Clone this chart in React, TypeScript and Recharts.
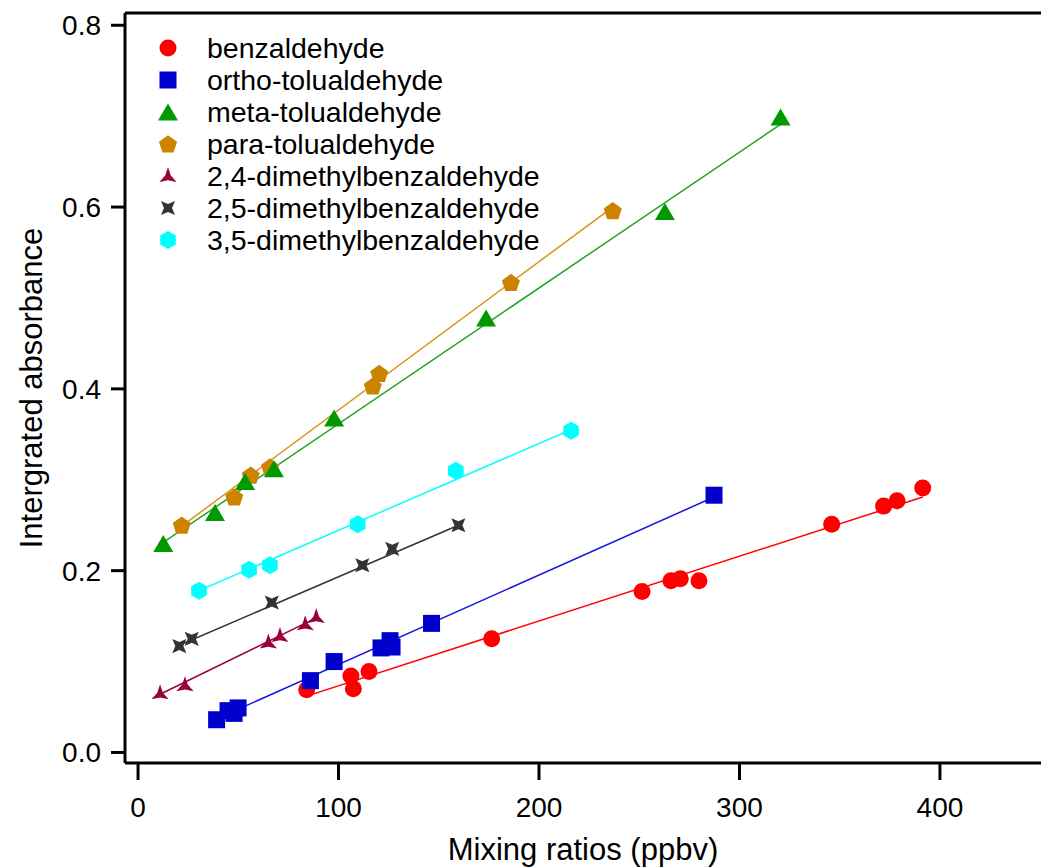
import { ScatterChart, Scatter, XAxis, YAxis, ReferenceLine, Legend, Label } from 'recharts';

// values (x = ppbv, y = integrated absorbance)
const benzX = [84.1, 106.2, 107.4, 115.2, 176.4, 251.4, 265.8, 270.5, 279.8, 346.0, 371.9, 378.6, 391.4];
const benzY = [0.069, 0.084, 0.070, 0.089, 0.125, 0.177, 0.189, 0.191, 0.189, 0.251, 0.271, 0.277, 0.291];
const benzFitX = [84.1, 391.4];
const benzFitY = [0.062, 0.281];

const orthoX = [39.2, 44.9, 47.9, 49.9, 86.0, 97.8, 121.2, 125.7, 126.7, 146.4, 287.3];
const orthoY = [0.036, 0.046, 0.043, 0.049, 0.079, 0.100, 0.115, 0.123, 0.116, 0.142, 0.283];
const orthoFitX = [39.2, 287.3];
const orthoFitY = [0.037, 0.281];

const metaX = [12.6, 38.4, 53.4, 67.8, 97.8, 173.6, 262.8, 320.5];
const metaY = [0.230, 0.264, 0.298, 0.312, 0.368, 0.478, 0.595, 0.699];
const metaFitX = [12.6, 320.5];
const metaFitY = [0.231, 0.691];

const paraX = [21.8, 48.0, 56.2, 65.8, 117.1, 120.3, 186.0, 236.8];
const paraY = [0.250, 0.281, 0.305, 0.314, 0.403, 0.417, 0.517, 0.596];
const paraFitX = [21.8, 236.8];
const paraFitY = [0.249, 0.600];

const dm24X = [11.0, 23.4, 65.0, 70.8, 83.4, 88.9];
const dm24Y = [0.065, 0.074, 0.121, 0.128, 0.141, 0.149];
const dm24FitX = [11.0, 88.9];
const dm24FitY = [0.064, 0.148];

const dm25X = [20.6, 26.8, 66.7, 111.9, 126.8, 159.8];
const dm25Y = [0.117, 0.125, 0.165, 0.206, 0.224, 0.250];
const dm25FitX = [20.6, 159.8];
const dm25FitY = [0.118, 0.250];

const dm35X = [30.4, 55.4, 65.8, 109.6, 158.5, 216.0];
const dm35Y = [0.178, 0.201, 0.206, 0.251, 0.310, 0.354];
const dm35FitX = [30.4, 216.0];
const dm35FitY = [0.178, 0.355];

const xTicks = [0, 100, 200, 300, 400];
const yTicks = [0, 0.2, 0.4, 0.6, 0.8];
const X_DOMAIN = [-6.5, 450.4];
const Y_DOMAIN = [-0.0116, 0.8135];

const font = '"Liberation Sans", Arial, sans-serif';

const zip = (xs: number[], ys: number[]) => xs.map((x, i) => ({ x, y: ys[i] }));

const series = [
  { name: 'benzaldehyde', kind: 'circle', color: '#ff0000', line: '#ff0000', xs: benzX, ys: benzY, fx: benzFitX, fy: benzFitY },
  { name: 'ortho-tolualdehyde', kind: 'square', color: '#0000cc', line: '#1414e6', xs: orthoX, ys: orthoY, fx: orthoFitX, fy: orthoFitY },
  { name: 'meta-tolualdehyde', kind: 'triangle', color: '#009900', line: '#1fa51f', xs: metaX, ys: metaY, fx: metaFitX, fy: metaFitY },
  { name: 'para-tolualdehyde', kind: 'pentagon', color: '#cc8400', line: '#d9921c', xs: paraX, ys: paraY, fx: paraFitX, fy: paraFitY },
  { name: '2,4-dimethylbenzaldehyde', kind: 'star3', color: '#99003d', line: '#99003d', xs: dm24X, ys: dm24Y, fx: dm24FitX, fy: dm24FitY },
  { name: '2,5-dimethylbenzaldehyde', kind: 'star4', color: '#333333', line: '#333333', xs: dm25X, ys: dm25Y, fx: dm25FitX, fy: dm25FitY },
  { name: '3,5-dimethylbenzaldehyde', kind: 'hexagon', color: '#00ffff', line: '#00ffff', xs: dm35X, ys: dm35Y, fx: dm35FitX, fy: dm35FitY },
];

// markers are drawn in this order (green over orange)
const drawOrder = [0, 1, 3, 2, 4, 5, 6];

const polygon = (cx: number, cy: number, n: number, r: number, start: number) => {
  const pts = [];
  for (let i = 0; i < n; i++) {
    const a = start + (i * 2 * Math.PI) / n;
    pts.push(`${cx + r * Math.cos(a)},${cy + r * Math.sin(a)}`);
  }
  return pts.join(' ');
};

const star = (cx: number, cy: number, n: number, ro: number, ri: number, start: number) => {
  const pts = [];
  for (let i = 0; i < n * 2; i++) {
    const a = start + (i * Math.PI) / n;
    const r = i % 2 === 0 ? ro : ri;
    pts.push(`${cx + r * Math.cos(a)},${cy + r * Math.sin(a)}`);
  }
  return pts.join(' ');
};

const Marker = ({ kind, color, cx, cy }: any) => {
  if (cx == null || cy == null) return <g />;
  switch (kind) {
    case 'circle':
      return <circle cx={cx} cy={cy} r={8.5} fill={color} />;
    case 'square':
      return <rect x={cx - 8.5} y={cy - 8.5} width={17} height={17} fill={color} />;
    case 'triangle':
      return <polygon points={`${cx},${cy - 8.5} ${cx + 10},${cy + 8.5} ${cx - 10},${cy + 8.5}`} fill={color} />;
    case 'pentagon':
      return <polygon points={polygon(cx, cy + 0.8, 5, 9.5, -Math.PI / 2)} fill={color} />;
    case 'hexagon':
      return <polygon points={polygon(cx, cy, 6, 9, -Math.PI / 2)} fill={color} />;
    case 'star3':
      return <polygon points={star(cx, cy + 1, 3, 10, 3.2, -Math.PI / 2)} fill={color} />;
    case 'star4':
      return <polygon points={star(cx, cy, 4, 10, 4, -Math.PI / 4)} fill={color} />;
    default:
      return <g />;
  }
};

const LegendBox = () => (
  <div style={{ fontFamily: font, fontSize: 28.5, color: '#000' }}>
    {series.map((s) => (
      <div key={s.name} style={{ display: 'flex', alignItems: 'center', height: 32 }}>
        <svg width={32} height={32}>
          <Marker kind={s.kind} color={s.color} cx={16} cy={16} />
        </svg>
        <span style={{ marginLeft: 23, lineHeight: '32px', whiteSpace: 'nowrap' }}>{s.name}</span>
      </div>
    ))}
  </div>
);

const App = () => {
  return (
    <div style={{ position: 'absolute', left: 0, top: 0, background: '#fff' }}>
      <ScatterChart width={1041} height={867} margin={{ top: 13, right: 0, bottom: 0, left: 0 }}>
        <XAxis
          type="number"
          dataKey="x"
          domain={X_DOMAIN}
          ticks={xTicks}
          allowDataOverflow
          height={104}
          axisLine={{ stroke: '#000', strokeWidth: 3 }}
          tickLine={{ stroke: '#000', strokeWidth: 3 }}
          tickSize={17}
          tickMargin={17}
          tick={{ fill: '#000', fontSize: 28, fontFamily: font }}
        >
          <Label value="Mixing ratios (ppbv)" position="insideBottom" offset={7} style={{ fill: '#000', fontSize: 31, fontFamily: font }} />
        </XAxis>
        <YAxis
          type="number"
          dataKey="y"
          domain={Y_DOMAIN}
          ticks={yTicks}
          allowDataOverflow
          width={125}
          tickFormatter={(v: number) => v.toFixed(1)}
          axisLine={{ stroke: '#000', strokeWidth: 3 }}
          tickLine={{ stroke: '#000', strokeWidth: 3 }}
          tickSize={14}
          tickMargin={10}
          tick={{ fill: '#000', fontSize: 28, fontFamily: font }}
        >
          <Label value="Intergrated absorbance" angle={-90} position="center" dx={-32} style={{ fill: '#000', fontSize: 31, fontFamily: font, textAnchor: 'middle' }} />
        </YAxis>
        <ReferenceLine y={Y_DOMAIN[1]} stroke="#000" strokeWidth={3} />
        {series.map((s) => (
          <Scatter
            key={s.name + '-fit'}
            data={zip(s.fx, s.fy)}
            line={{ stroke: s.line, strokeWidth: 1.5 }}
            shape={() => <g />}
            legendType="none"
            isAnimationActive={false}
          />
        ))}
        {drawOrder.map((i) => {
          const s = series[i];
          return (
            <Scatter
              key={s.name}
              name={s.name}
              data={zip(s.xs, s.ys)}
              shape={(p: any) => <Marker kind={s.kind} color={s.color} cx={p.cx} cy={p.cy} />}
              isAnimationActive={false}
            />
          );
        })}
        <Legend
          layout="vertical"
          align="center"
          verticalAlign="middle"
          content={() => <LegendBox />}
          wrapperStyle={{ left: 152, top: 32, width: 'auto' }}
        />
      </ScatterChart>
    </div>
  );
};

export default App;
